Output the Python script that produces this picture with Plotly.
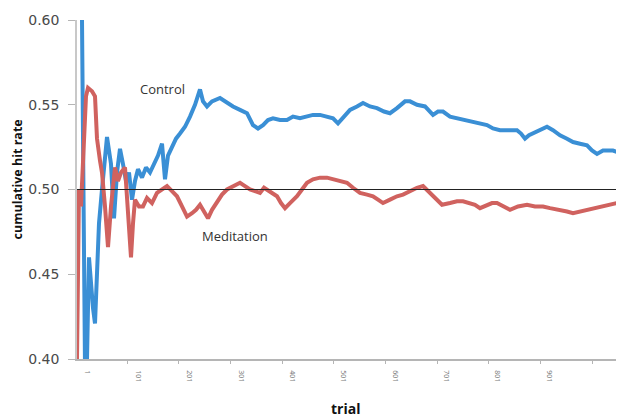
import plotly.graph_objects as go

control_trial = [4, 10, 16, 20, 24, 28, 32, 36, 40, 44, 50, 56, 60, 68, 74, 80, 86, 92, 98, 104,
                 110, 116, 122, 130, 138, 146, 154, 162, 170, 176, 182, 190, 198, 206, 216, 226, 236,
                 246, 252, 260, 270, 286, 300, 312, 326, 340, 352, 362, 372, 382, 392, 406, 420, 432,
                 446, 460, 472, 486, 500, 512, 522, 534, 546, 560, 572, 586, 600, 614, 626, 640, 656,
                 666, 680, 696, 712, 722, 732, 746, 760, 772, 786, 802, 820, 832, 846, 862, 880, 888,
                 896, 904, 912, 926, 940, 952, 966, 980, 992, 1006, 1020, 1030, 1040, 1052, 1062, 1072,
                 1082, 1094]
control_rate = [0.605, 0.60, 0.395, 0.40, 0.46, 0.44, 0.43, 0.421, 0.45, 0.48, 0.50, 0.52, 0.531,
                0.515, 0.483, 0.51, 0.524, 0.515, 0.505, 0.51, 0.494, 0.505, 0.512, 0.507, 0.513,
                0.51, 0.515, 0.52, 0.527, 0.506, 0.52, 0.525, 0.53, 0.533, 0.537, 0.543, 0.55, 0.559,
                0.552, 0.549, 0.552, 0.554, 0.551, 0.549, 0.547, 0.545, 0.538, 0.536, 0.538, 0.541,
                0.542, 0.541, 0.541, 0.543, 0.542, 0.543, 0.544, 0.544, 0.543, 0.542, 0.539, 0.543,
                0.547, 0.549, 0.551, 0.549, 0.548, 0.546, 0.545, 0.548, 0.552, 0.552, 0.550, 0.549,
                0.544, 0.546, 0.546, 0.543, 0.542, 0.541, 0.540, 0.539, 0.538, 0.536, 0.535, 0.535,
                0.535, 0.533, 0.530, 0.532, 0.533, 0.535, 0.537, 0.535, 0.532, 0.530, 0.528, 0.527,
                0.526, 0.523, 0.521, 0.523, 0.523, 0.523, 0.522, 0.521]

meditation_trial = [0, 2, 4, 8, 12, 18, 22, 30, 36, 40, 46, 50, 56, 62, 68, 76, 82, 88, 96, 102,
                    108, 112, 116, 124, 132, 140, 150, 160, 170, 180, 190, 200, 210, 220, 230, 238,
                    246, 254, 262, 270, 280, 290, 300, 312, 326, 336, 346, 356, 366, 374, 380, 390,
                    400, 408, 416, 426, 440, 450, 460, 472, 486, 500, 512, 526, 540, 552, 566, 580,
                    592, 602, 612, 626, 640, 652, 666, 680, 692, 702, 712, 722, 730, 746, 760, 772,
                    786, 796, 806, 820, 830, 840, 852, 866, 882, 900, 916, 932, 946, 966, 980, 992,
                    1006, 1026, 1040, 1052, 1066, 1080, 1094]
meditation_rate = [0.40, 0.45, 0.50, 0.49, 0.52, 0.555, 0.56, 0.558, 0.555, 0.53, 0.517, 0.51,
                   0.49, 0.466, 0.49, 0.513, 0.505, 0.51, 0.513, 0.49, 0.46, 0.48, 0.494, 0.49,
                   0.49, 0.495, 0.492, 0.498, 0.50, 0.502, 0.499, 0.496, 0.49, 0.484, 0.486, 0.488,
                   0.491, 0.487, 0.483, 0.488, 0.493, 0.497, 0.500, 0.502, 0.504, 0.502, 0.500,
                   0.499, 0.498, 0.501, 0.500, 0.498, 0.496, 0.492, 0.489, 0.492, 0.496, 0.500,
                   0.504, 0.506, 0.507, 0.507, 0.506, 0.505, 0.504, 0.501, 0.498, 0.497, 0.496,
                   0.494, 0.492, 0.494, 0.496, 0.497, 0.499, 0.501, 0.502, 0.499, 0.496, 0.493,
                   0.491, 0.492, 0.493, 0.493, 0.492, 0.491, 0.489, 0.491, 0.492, 0.492, 0.490,
                   0.488, 0.490, 0.491, 0.490, 0.490, 0.489, 0.488, 0.487, 0.486, 0.487, 0.488,
                   0.489, 0.490, 0.491, 0.492, 0.492]

x_tick_vals = [20, 122, 225, 328, 430, 533, 636, 738, 841, 944]
x_tick_text = ["1", "101", "201", "301", "401", "501", "601", "701", "801", "901"]
x_minor_vals = [100, 202, 306, 410, 512, 616, 720, 822, 926, 1030]
y_tick_vals = [0.40, 0.45, 0.50, 0.55, 0.60]
chance_level = 0.50

fig = go.Figure()
fig.add_trace(go.Scatter(x=control_trial, y=control_rate, mode="lines",
                         line=dict(color="#3a8fd5", width=4), name="Control"))
fig.add_trace(go.Scatter(x=meditation_trial, y=meditation_rate, mode="lines",
                         line=dict(color="#d0625f", width=4), name="Meditation"))
fig.add_shape(type="line", xref="paper", x0=0, x1=1, yref="y", y0=chance_level, y1=chance_level,
              line=dict(color="#222222", width=1))

fig.add_annotation(x=170, y=0.5595, text="Control", showarrow=False,
                   font=dict(family="Open Sans, Arial", size=13, color="#333333"))
fig.add_annotation(x=316, y=0.4725, text="Meditation", showarrow=False,
                   font=dict(family="Open Sans, Arial", size=13, color="#333333"))
fig.add_annotation(xref="paper", yref="paper", x=0, y=0.5, xshift=-60, yshift=10,
                   xanchor="center", yanchor="middle",
                   text="<b>cumulative hit rate</b>", textangle=-90, showarrow=False,
                   font=dict(family="Open Sans, Arial", size=12.5, color="#111111"))
fig.add_annotation(xref="paper", yref="paper", x=0.49, y=0, yshift=-49,
                   xanchor="center", yanchor="middle",
                   text="<b>trial</b>", showarrow=False,
                   font=dict(family="Open Sans, Arial", size=14, color="#111111"))

fig.update_layout(
    width=616, height=412,
    margin=dict(l=69, r=0, t=12, b=61),
    plot_bgcolor="white", paper_bgcolor="white",
    showlegend=False,
    font=dict(family="Open Sans, Arial", color="#444444"),
)
fig.update_xaxes(
    range=[0, 1094], showgrid=False, zeroline=False, automargin=False,
    showline=True, linecolor="#b5b5b5", linewidth=1.5,
    tickmode="array", tickvals=x_tick_vals, ticktext=x_tick_text,
    tickangle=90, tickfont=dict(size=7, color="#777777"), ticks="",
    ticklabelstandoff=8,
    minor=dict(tickmode="array", tickvals=x_minor_vals, ticks="outside",
               ticklen=3, tickcolor="#b5b5b5"),
)
fig.update_yaxes(
    range=[0.40, 0.60], showgrid=False, zeroline=False, automargin=False,
    showline=True, linecolor="#c8c8c8", linewidth=1.5,
    tickmode="array", tickvals=y_tick_vals, tickformat=".2f",
    ticks="outside", ticklen=7, tickcolor="#b5b5b5",
    ticklabelstandoff=6,
    tickfont=dict(family="DejaVu Sans", size=14, color="#4a4a4a"),
)

fig.write_html("out.html")
